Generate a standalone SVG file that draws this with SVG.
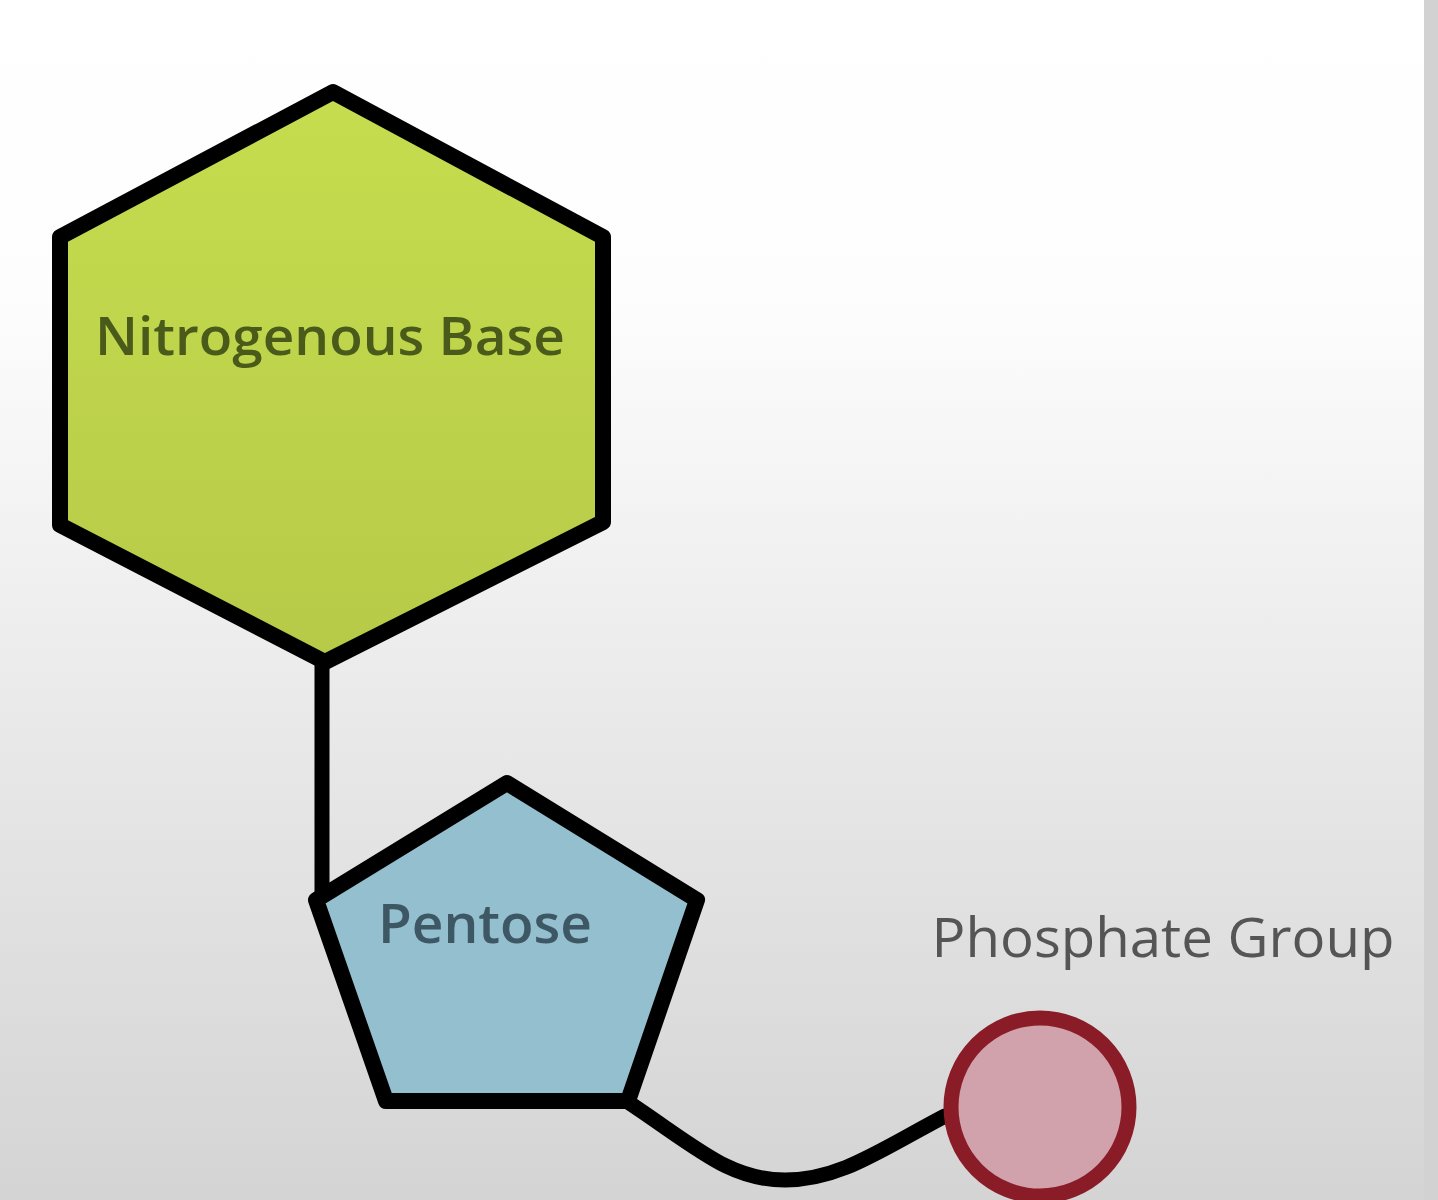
<svg xmlns="http://www.w3.org/2000/svg" width="1438" height="1200" viewBox="0 0 1438 1200">
<defs>
<linearGradient id="bg" x1="0" y1="0" x2="0" y2="1">
<stop offset="0" stop-color="#ffffff"/>
<stop offset="0.25" stop-color="#fdfdfd"/>
<stop offset="0.6" stop-color="#e9e9e9"/>
<stop offset="1" stop-color="#d4d4d4"/>
</linearGradient>
<linearGradient id="hexfill" x1="0" y1="0" x2="0" y2="1">
<stop offset="0" stop-color="#c5dd4e"/>
<stop offset="1" stop-color="#b7ca48"/>
</linearGradient>
<style>
.edge{fill:none;stroke:#000;stroke-width:15;stroke-linecap:round;stroke-linejoin:round}
.shape{stroke:#000;stroke-width:16;stroke-linejoin:round}
.lbl{font-family:"Open Sans","Liberation Sans",sans-serif}
</style>
</defs>
<rect width="1438" height="1200" fill="url(#bg)"/>
<rect x="1424" y="0" width="14" height="1200" fill="#d2d2d2"/>
<g id="connectors">
<path class="edge" d="M322 662 L322 895"/>
<path class="edge" d="M628 1102 C700 1150 730 1180 785 1180 C840 1180 880 1150 945 1116"/>
</g>
<g id="nitrogenous-base">
<polygon class="shape" fill="url(#hexfill)" points="333,92 603,237 603,522 325,662 60,525 60,237"/>
<text class="lbl" x="330" y="355" font-size="52" font-weight="600" fill="#4a5a1a" text-anchor="middle" textLength="470" lengthAdjust="spacingAndGlyphs">Nitrogenous Base</text>
</g>
<g id="pentose">
<polygon class="shape" fill="#93bfcf" points="507,783 697,900 628,1101 386,1101 316,900"/>
<text class="lbl" x="485" y="943" font-size="54" font-weight="600" fill="#3d5864" text-anchor="middle" textLength="214" lengthAdjust="spacingAndGlyphs">Pentose</text>
</g>
<g id="phosphate-group">
<circle cx="1040" cy="1107" r="89" fill="#d1a1ac" stroke="#8a1c28" stroke-width="15"/>
<text class="lbl" x="1163" y="957" font-size="54" fill="#555555" text-anchor="middle" textLength="463" lengthAdjust="spacingAndGlyphs">Phosphate Group</text>
</g>
</svg>
